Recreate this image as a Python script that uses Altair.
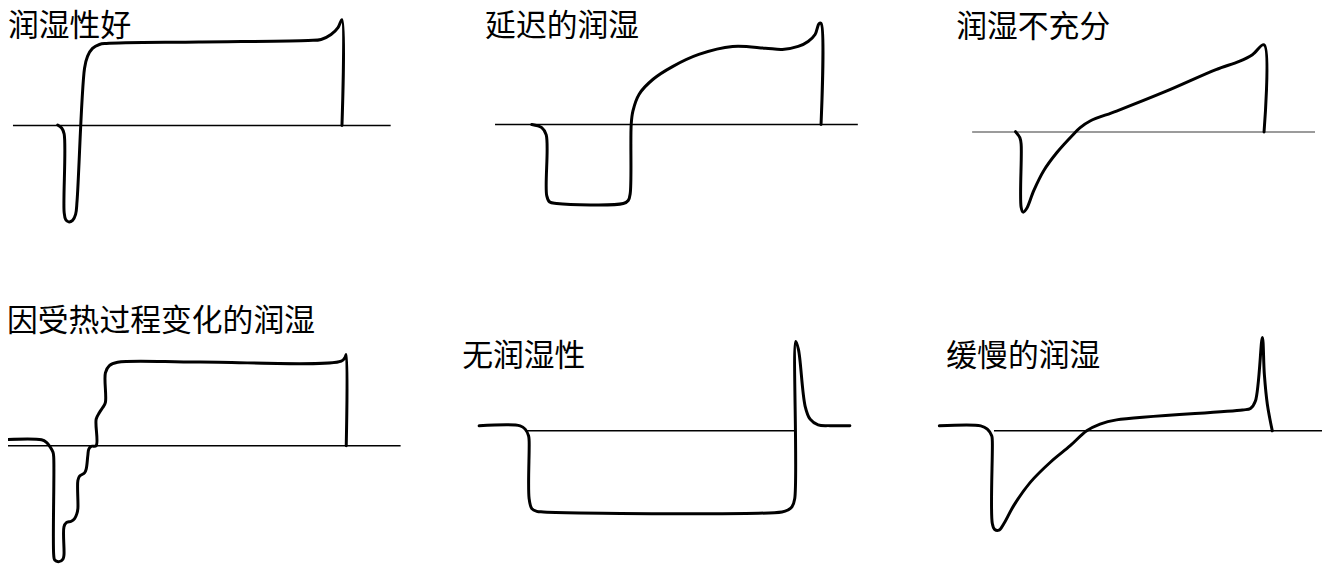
import altair as alt
import pandas as pd

# ---- panel titles ----
TITLES = ["润湿性好", "延迟的润湿", "润湿不充分", "因受热过程变化的润湿", "无润湿性", "缓慢的润湿"]

# ---- curves: time (t) and force above the zero line (f) ----
T1 = [45, 49, 51.5, 51.5, 53, 56, 60, 63, 64.5, 72, 75, 80, 87, 94, 187, 297, 310, 320, 327, 331, 331]
F1 = [0.5, -2.5, -8.5, -87.5, -94.5, -97, -95.5, -89.5, -75.5, 57.5, 69.5, 77.5, 81.5, 82.5, 84, 85.5, 86.5, 91.5, 98.5, 106.5, 0]

T2 = [37, 47, 51.5, 52, 55, 62, 129, 134, 136, 137, 138.7, 145, 159, 179, 205, 239, 272, 289, 305, 315, 322, 326, 328, 328]
F2 = [0, -3.2, -10.5, -71.5, -78, -79.5, -79.5, -76.5, -69.5, 0, 13.5, 30.5, 45.5, 58.5, 70.5, 78.5, 76.8, 75.5, 78.5, 83.5, 90.5, 101.5, 101.8, 0]

T3 = [43.7, 48, 49.3, 49.3, 51.3, 54.7, 62, 72, 85.3, 102, 108.7, 118.7, 145.3, 195.3, 245.3, 268.7, 282, 293.7, 293.7]
F3 = [0.3, -5.7, -12.3, -75.7, -80.7, -77.3, -59, -39, -20.7, -2.3, 4.3, 11, 21, 41, 62.7, 71, 77.7, 87.7, 0]

T4 = [0, 41.7, 46.7, 50.7, 53.3, 54, 54, 55, 59.3, 63.3, 64.3, 64.3, 66.7, 71.7, 75, 77.3, 78.3, 78.3, 80, 85,
      86.7, 88.3, 89.3, 91.7, 96.7, 96.7, 100, 103.3, 106, 106, 110, 118.3, 200, 343.3, 347, 348.3, 348.3]
F4 = [6, 6, 3.4, -1.6, -6.6, -11.6, -110, -115, -116.6, -114, -110, -81.6, -77.3, -76, -73.3, -68.3, -63.3, -35, -30.6, -27.3,
      -23.3, -10, -3.3, -0.6, 0, 26.7, 33.4, 38.4, 43.7, 73.4, 80.7, 84, 84.2, 85, 88.7, 91.7, 0]

T5 = [0, 41.3, 46.3, 49.7, 50.3, 50.3, 53, 58, 64.7, 304.7, 311, 314.7, 317.5, 318.5, 321.3, 328, 333, 341, 353, 373]
F5 = [5, 5, 1.7, -5, -10, -68.3, -78.3, -81, -81.6, -81.6, -79.5, -76.6, -68.3, 90, 81.7, 24.7, 11.7, 6, 5.2, 5]

T6 = [0, 41.7, 48.3, 52.7, 53.3, 53.3, 55.7, 60, 65, 75, 91.7, 111.7, 131.7, 148.3, 161.7, 178.3, 305, 313, 318, 325, 327, 330, 335]
F6 = [5, 5, 1.7, -5, -10, -93.3, -99.3, -100, -93.3, -75, -51.6, -31.6, -15, 0, 6.7, 11, 21, 22.5, 30, 94, 56.7, 26.7, 0]

T_ALL = [T1, T2, T3, T4, T5, T6]
F_ALL = [F1, F2, F3, F4, F5, F6]

# ---- layout (page pixels) ----
ORIGIN_X = [13, 498, 978, 0, 482, 945]
ZERO_Y = [124.5, 123.5, 131, 446.7, 431.7, 431.7]
ZERO_SPAN = [(0, 380), (0, 365), (0, 345), (0, 403), (48, 318), (55, 385)]
ZERO_COLOR = ["#000000", "#000000", "#7a7a7a", "#000000", "#000000", "#000000"]
TITLE_POS = [(8, 25), (488, 25.5), (962, 26), (7, 322.5), (465, 357.5), (952, 357)]

curve_rows = []
for k in range(6):
    for i, (t, f) in enumerate(zip(T_ALL[k], F_ALL[k])):
        curve_rows.append({"panel": k, "i": i, "X": ORIGIN_X[k] + t, "Y": ZERO_Y[k] - f})
curve_df = pd.DataFrame(curve_rows)

base_df = pd.DataFrame({
    "panel": list(range(6)),
    "X1": [ORIGIN_X[k] + ZERO_SPAN[k][0] for k in range(6)],
    "X2": [ORIGIN_X[k] + ZERO_SPAN[k][1] for k in range(6)],
    "Y": ZERO_Y,
    "col": ZERO_COLOR,
})

title_df = pd.DataFrame({
    "title": TITLES,
    "X": [p[0] for p in TITLE_POS],
    "Y": [p[1] for p in TITLE_POS],
})

xs = alt.Scale(domain=[8, 1330], nice=False, zero=False)
ys = alt.Scale(domain=[8, 565], reverse=True, nice=False, zero=False)

baselines = alt.Chart(base_df).mark_rule(strokeWidth=1.6).encode(
    x=alt.X("X1:Q", scale=xs, axis=None),
    x2="X2:Q",
    y=alt.Y("Y:Q", scale=ys, axis=None),
    color=alt.Color("col:N", scale=None, legend=None),
)

curves = alt.Chart(curve_df).mark_line(
    color="black", strokeWidth=3, interpolate="catmull-rom",
    strokeCap="round", strokeJoin="round"
).encode(
    x=alt.X("X:Q", scale=xs, axis=None),
    y=alt.Y("Y:Q", scale=ys, axis=None),
    detail="panel:N",
    order="i:Q",
)

titles = alt.Chart(title_df).mark_text(
    align="left", baseline="middle", font="Noto Sans CJK SC", fontSize=31, color="black"
).encode(
    x=alt.X("X:Q", scale=xs, axis=None),
    y=alt.Y("Y:Q", scale=ys, axis=None),
    text="title:N",
)

chart = alt.layer(baselines, curves, titles).properties(
    width=1322, height=557, padding=0,
    autosize=alt.AutoSizeParams(type="none"),
    background="white",
).configure_view(stroke=None)

chart.save("out.html", embed_options={"renderer": "svg", "actions": False})
